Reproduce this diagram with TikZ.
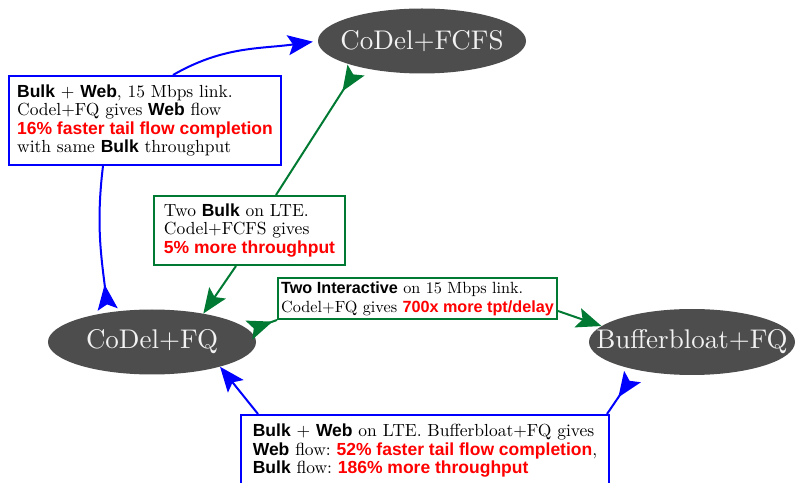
\documentclass[tikz,border=0pt]{standalone}
\usepackage{fontspec}
\setmainfont{lmroman10-regular.otf}[BoldFont=lmroman10-bold.otf,ItalicFont=lmroman10-italic.otf]
\setsansfont{Liberation Sans}
\usetikzlibrary{arrows.meta,shapes.geometric}
\definecolor{algofill}{RGB}{77,77,77}
\definecolor{algotext}{RGB}{242,242,242}
\definecolor{lteblue}{RGB}{0,0,255}
\definecolor{pairgreen}{RGB}{0,122,51}
\newcommand{\bsf}[1]{\textsf{\textbf{#1}}}
\newcommand{\gain}[1]{\textcolor{red}{\bsf{#1}}}
\newcommand{\zw}[1]{\makebox[0pt]{#1}}
\frenchspacing

\begin{document}
\begin{tikzpicture}[x=1pt,y=1pt,
    algo/.style={ellipse,fill=algofill,text=algotext,inner sep=0pt,minimum width=208pt,minimum height=65pt,font=\fontsize{27}{30}\selectfont},
    note/.style={draw,fill=white,line width=2pt,anchor=north west,align=left,inner sep=3pt,font=\fontsize{17.5}{18.5}\selectfont},
    big/.tip={Stealth[length=25pt,width=20pt,inset=5pt]},
    bigback/.tip={Stealth[length=25pt,width=20pt,inset=5pt,reversed]},
    link/.style={line width=2pt}]
    \useasboundingbox (0,0) rectangle (795,482);
    \node at (422,441) [algo] (fcfs) {\zw{CoDel+FCFS}};
    \node at (152,140) [algo] (fq) {\zw{CoDel+FQ}};
    \node at (692,140) [algo,minimum width=206pt,minimum height=66pt] (bb) {\zw{Bufferbloat+FQ}};
    \node at (8,407) [note,draw=lteblue,minimum width=272pt,minimum height=89pt] (box1) {\bsf{Bulk} + \bsf{Web}, 15 Mbps link.\\ Codel+FQ gives \bsf{Web} flow\\ \gain{16\% faster tail flow completion}\\ with same \bsf{Bulk} throughput};
    \node at (153,287) [note,draw=pairgreen,minimum width=191pt,minimum height=69pt] (box2) {Two \bsf{Bulk} on LTE.\\ Codel+FCFS gives\\ \gain{5\% more throughput}};
    \node at (277,205) [note,draw=pairgreen,minimum width=279pt,minimum height=41pt,font=\fontsize{16.2}{19}\selectfont] (box3) {\bsf{Two Interactive} on 15 Mbps link.\\ Codel+FQ gives \gain{700x more tpt/delay}};
    \node at (240,68) [note,draw=lteblue,minimum width=368pt,minimum height=72pt] (box4) {\bsf{Bulk} + \bsf{Web} on LTE. Bufferbloat+FQ gives\\ \bsf{Web} flow: \gain{52\% faster tail flow completion},\\ \bsf{Bulk} flow: \gain{186\% more throughput}};
    \draw[link,lteblue,bigback-,shorten <=3pt] (fq.146) to[out=97,in=-97] ([xshift=-42pt]box1.south);
    \draw[link,lteblue,-big,shorten >=5pt] ([xshift=28pt]box1.north) to[out=30,in=188] (fcfs.west);
    \draw[link,pairgreen,bigback-,shorten <=4pt] (fcfs.202) -- ([xshift=26.5pt]box2.north);
    \draw[link,pairgreen,-big] ([xshift=-13.5pt]box2.south) -- (fq.29);
    \draw[link,pairgreen,bigback-] (fq.7) -- (box3.south west);
    \draw[link,pairgreen,-big] ([yshift=-12.5pt]box3.east) -- (bb.170);
    \draw[link,lteblue,-big] ([xshift=18pt]box4.north west) -- (fq.-20);
    \draw[link,lteblue,bigback-,shorten <=8pt] (bb.207) -- ([xshift=-3pt]box4.north east);
\end{tikzpicture}
\end{document}
